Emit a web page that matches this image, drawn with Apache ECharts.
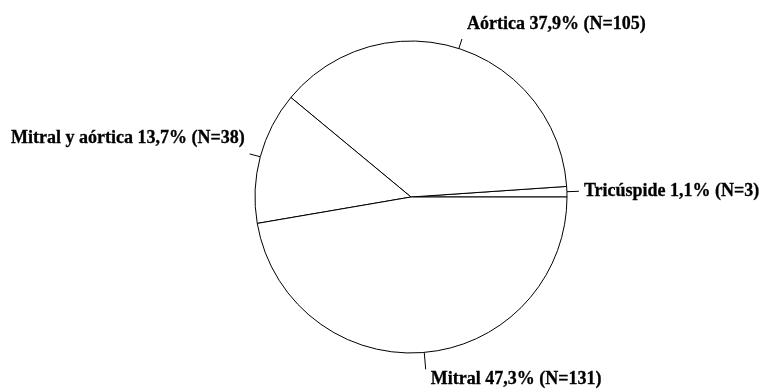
<!DOCTYPE html>
<html>
<head>
<meta charset="utf-8">
<script src="https://cdn.jsdelivr.net/npm/echarts@6/dist/echarts.min.js"></script>
<style>
  html, body { margin: 0; padding: 0; background: #fff; }
  #chart { width: 763px; height: 392px; }
</style>
</head>
<body>
<div id="chart"></div>
<script>
// Valve involvement, counts per group (slices run counter-clockwise from 3 o'clock)
const categories = ['Tricúspide', 'Aórtica', 'Mitral y aórtica', 'Mitral'];
const counts = [3, 105, 38, 131];

// Per-slice label tweaks: leader tick length and vertical text shift (px, + = up)
const tickLength = [12, 10, 11, 17];
const textLift = [0, 15, 16, -10];

const fmtPct = p => p.percent.toFixed(1).replace('.', ',');

const data = categories.map((name, i) => ({
  name: name,
  value: counts[i],
  labelLine: { length: tickLength[i], length2: 0 }
}));

const chart = echarts.init(document.getElementById('chart'), null, { renderer: 'canvas' });
chart.setOption({
  backgroundColor: '#ffffff',
  animation: false,
  series: [{
    type: 'pie',
    center: [411, 197],
    radius: 156,
    startAngle: 0,
    clockwise: false,
    avoidLabelOverlap: false,
    silent: true,
    data: data,
    itemStyle: { color: '#ffffff', borderColor: '#000000', borderWidth: 1 },
    label: {
      show: true,
      position: 'outside',
      distanceToLabelLine: 5,
      color: '#000000',
      fontFamily: '"Liberation Serif", "Times New Roman", serif',
      fontWeight: 'bold',
      fontSize: 18,
      formatter: p => {
        const text = '{t|' + p.name + ' ' + fmtPct(p) + '% (N=' + p.value + ')}';
        const lift = textLift[p.dataIndex];
        // an invisible spacer line above or below nudges the text vertically
        if (lift > 0) return text + '\n{g' + lift + '| }';
        if (lift < 0) return '{g' + (-lift) + '| }\n' + text;
        return text;
      },
      rich: Object.assign({
        t: {
          fontFamily: '"Liberation Serif", "Times New Roman", serif',
          fontWeight: 'bold',
          fontSize: 18,
          lineHeight: 20,
          color: '#000000',
          textBorderColor: '#000000',
          textBorderWidth: 0.3
        }
      }, ...textLift.filter(v => v !== 0).map(v => ({
        ['g' + Math.abs(v)]: { fontSize: 1, lineHeight: 2 * Math.abs(v) }
      })))
    },
    labelLine: {
      show: true,
      smooth: false,
      lineStyle: { color: '#000000', width: 1 }
    },
    emphasis: { disabled: true }
  }]
});
</script>
</body>
</html>
